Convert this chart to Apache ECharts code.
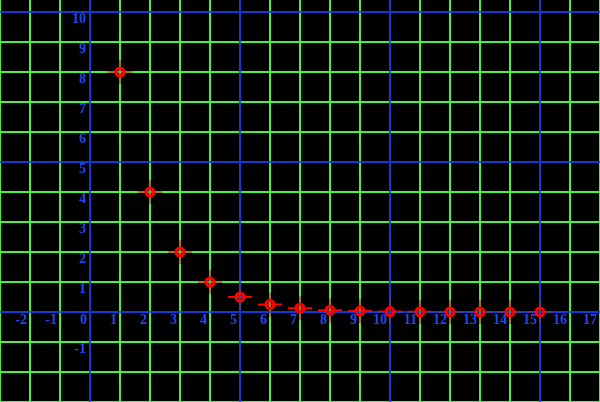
<!DOCTYPE html>
<html><head><meta charset="utf-8">
<script src="https://cdn.jsdelivr.net/npm/echarts@6/dist/echarts.min.js"></script>
<style>html,body{margin:0;padding:0;background:#000;overflow:hidden}#c{width:600px;height:402px}</style>
</head><body><div id="c"></div>
<script>
// ---- data ----
const xValues = [1, 2, 3, 4, 5, 6, 7, 8, 9, 10, 11, 12, 13, 14, 15];
const yValues = [8, 4, 2, 1, 0.5, 0.25, 0.125, 0.0625, 0.031, 0.016, 0.008, 0.004, 0.002, 0.001, 0.0005];
const xTickLabels = [-2, -1, 0, 1, 2, 3, 4, 5, 6, 7, 8, 9, 10, 11, 12, 13, 14, 15, 16, 17];
const yTickLabels = [-1, 1, 2, 3, 4, 5, 6, 7, 8, 9, 10];
const blueX = [0, 5, 10, 15];
const blueY = [0, 5, 10];
const xMin = -3, xMax = 17, yMin = -3, yMax = 10.4;

// ---- styles ----
const GREEN = '#48f040';
const BLUE = '#0000ff';
const RED = '#ff0000';
const LABEL = {
  color: '#1e46ff', fontFamily: '"Liberation Serif", "DejaVu Serif", serif',
  fontWeight: 'bold', fontSize: 14
};
const W = 600, H = 402;
// offsets put the label axes on the zero lines
const yZeroOffset = -(W * (0 - xMin) / (xMax - xMin));
const xZeroOffset = -(H * (0 - yMin) / (yMax - yMin));

const pts = xValues.map((x, i) => [x, yValues[i]]);

function mkX(opts) {
  return Object.assign({
    type: 'value', min: xMin, max: xMax, interval: 1,
    axisLine: { show: false, onZero: false }, axisTick: { show: false },
    axisLabel: { show: false },
    splitLine: { show: true, showMinLine: true, showMaxLine: true, lineStyle: { color: GREEN, width: 2 } }
  }, opts);
}
function mkY(opts) {
  return Object.assign({
    type: 'value', min: yMin, max: yMax, interval: 1,
    axisLine: { show: false, onZero: false }, axisTick: { show: false },
    axisLabel: { show: false },
    splitLine: { show: true, showMinLine: true, showMaxLine: false, lineStyle: { color: GREEN, width: 2 } }
  }, opts);
}

const blueLines = (opacity, z) => ({
  silent: true, symbol: ['none', 'none'], z: z, animation: false,
  label: { show: false }, emphasis: { disabled: true },
  lineStyle: { color: BLUE, width: 2, type: 'solid', opacity: opacity },
  data: blueX.map(v => ({ xAxis: v })).concat(blueY.map(v => ({ yAxis: v })))
});

const option = {
  backgroundColor: '#000',
  animation: false,
  grid: { left: 0, right: 0, top: 0, bottom: 0, containLabel: false, outerBoundsMode: 'none' },
  xAxis: [
    mkX({ z: 6, position: 'bottom', offset: xZeroOffset, axisLabel: Object.assign({
      show: true, showMinLabel: true, showMaxLabel: true, margin: 1, align: 'right', verticalAlign: 'top',
      padding: [0, 3, 0, 0], hideOverlap: false,
      formatter: v => xTickLabels.indexOf(Math.round(v * 1000) / 1000) >= 0 ? String(Math.round(v)) : ''
    }, LABEL), splitLine: { show: false } }),
    mkX({ z: 0, position: 'bottom' }),
    mkX({ z: 3, position: 'bottom', splitLine: { show: true, showMinLine: true, showMaxLine: true, lineStyle: { color: GREEN, width: 2, opacity: 0.5 } } })
  ],
  yAxis: [
    mkY({ z: 6, position: 'left', offset: yZeroOffset, axisLabel: Object.assign({
      show: true, showMinLabel: true, showMaxLabel: true, margin: 4, align: 'right', verticalAlign: 'top',
      hideOverlap: false,
      formatter: v => yTickLabels.indexOf(Math.round(v * 1000) / 1000) >= 0 ? String(Math.round(v)) : ''
    }, LABEL), splitLine: { show: false } }),
    mkY({ z: 0, position: 'left' }),
    mkY({ z: 3, position: 'left', splitLine: { show: true, showMinLine: true, showMaxLine: false, lineStyle: { color: GREEN, width: 2, opacity: 0.5 } } })
  ],
  series: [
    {
      type: 'scatter', xAxisIndex: 0, yAxisIndex: 0, z: 2, silent: true,
      symbol: 'path://M0,11H24V13H0Z M11,0H13V24H11Z', symbolSize: 24,
      itemStyle: { color: RED, opacity: 1 },
      data: pts,
      markLine: blueLines(1, 1)
    },
    {
      type: 'scatter', xAxisIndex: 0, yAxisIndex: 0, z: 5, silent: true,
      symbol: 'circle', symbolSize: 8,
      itemStyle: { color: 'rgba(0,0,0,0)', borderColor: RED, borderWidth: 3, opacity: 1 },
      data: pts,
      markLine: blueLines(0.5, 4)
    }
  ]
};
echarts.init(document.getElementById('c'), null, { renderer: 'canvas' }).setOption(option);
</script></body></html>
